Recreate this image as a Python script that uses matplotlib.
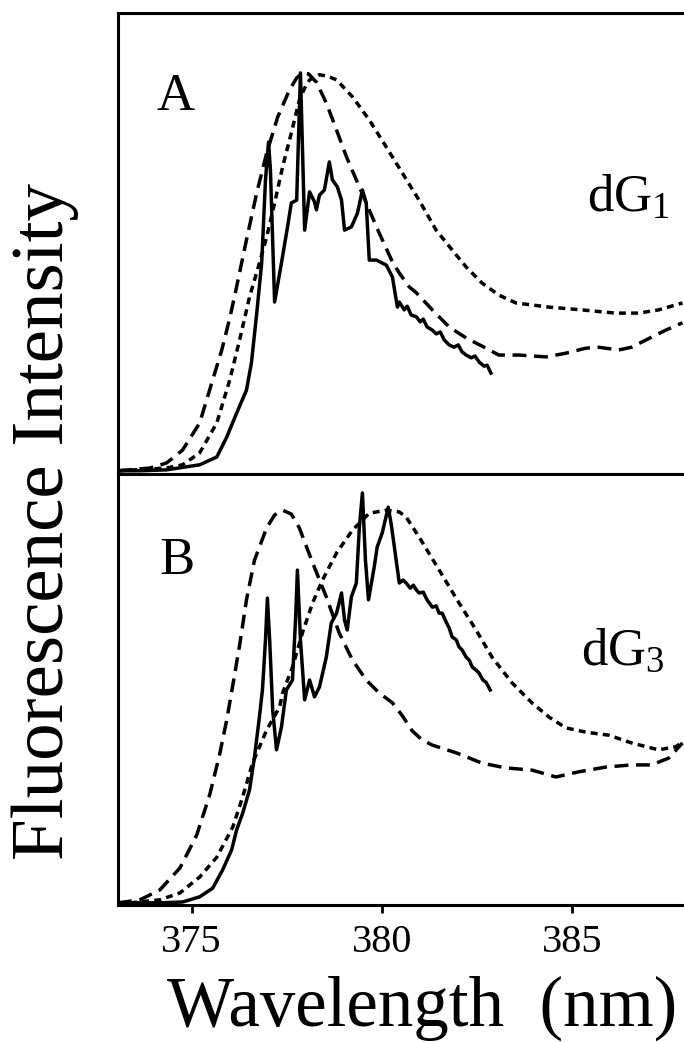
import matplotlib
matplotlib.use("Agg")
import matplotlib.pyplot as plt

plt.rcParams['font.family'] = ['Liberation Serif', 'DejaVu Serif']
plt.rcParams['mathtext.fontset'] = 'custom'
plt.rcParams['mathtext.rm'] = 'Liberation Serif'
plt.rcParams['mathtext.it'] = 'Liberation Serif:italic'

# ---- panel A (dG1) ----
a_solid_x = [373.06, 373.64, 374.34, 375.21, 375.66, 375.92, 376.18, 376.44, 376.57, 376.71,
             376.84, 376.94, 377.02, 377.07, 377.18, 377.36, 377.52, 377.62, 377.76, 377.86,
             377.97, 378.10, 378.23, 378.28, 378.36, 378.49, 378.62, 378.70, 378.83, 378.94,
             379.02, 379.20, 379.36, 379.49, 379.59, 379.67, 379.86, 380.12, 380.28, 380.41,
             380.46, 380.59, 380.67, 380.77, 380.91, 381.01, 381.09, 381.19, 381.33, 381.43,
             381.54, 381.64, 381.77, 381.90, 382.01, 382.11, 382.22, 382.35, 382.45, 382.56,
             382.69, 382.77, 382.87]
a_solid_y = [0.7, 0.7, 0.9, 2.0, 3.7, 8.0, 13.2, 18.2, 24.1, 34.9,
             45.8, 63.8, 72.0, 65.9, 37.3, 45.8, 53.6, 58.8, 59.4, 87.0,
             52.9, 61.2, 59.0, 57.3, 60.5, 61.6, 67.7, 63.8, 62.3, 59.4,
             52.9, 53.6, 56.6, 61.6, 58.8, 46.4, 46.4, 45.3, 42.7, 36.2,
             37.3, 35.6, 36.4, 34.5, 34.1, 33.0, 33.6, 31.9, 31.2, 30.4,
             30.8, 29.1, 28.0, 27.5, 28.0, 26.5, 25.8, 25.2, 25.6, 24.3,
             23.4, 23.6, 21.9]

a_dash_x = [373.06, 373.90, 374.34, 374.76, 375.21, 375.55, 375.79, 376.00, 376.18, 376.44,
            376.71, 376.97, 377.26, 377.57, 377.76, 377.91, 378.07, 378.28, 378.54, 378.81,
            379.07, 379.33, 379.59, 379.93, 380.28, 380.46, 380.72, 380.91, 381.33, 381.77,
            382.22, 382.74, 383.08, 383.61, 384.32, 384.84, 385.37, 385.71, 386.23, 386.57,
            387.10, 387.47, 387.91]
a_dash_y = [0.7, 1.3, 2.4, 5.2, 11.1, 20.4, 26.9, 33.8, 40.6, 50.8,
            61.0, 69.6, 77.4, 83.3, 85.9, 87.0, 86.8, 85.0, 80.5, 74.6,
            68.8, 63.8, 58.8, 52.3, 46.0, 43.6, 40.6, 39.3, 35.6, 31.9,
            29.5, 27.3, 25.8, 25.8, 25.4, 26.2, 27.3, 27.5, 26.9, 27.5,
            29.7, 31.2, 32.8]

a_dot_x = [373.06, 374.34, 374.76, 375.21, 375.66, 376.00, 376.26, 376.52, 376.73, 376.97,
           377.18, 377.39, 377.62, 377.83, 377.97, 378.10, 378.36, 378.57, 378.81, 379.23,
           379.67, 380.12, 380.54, 380.98, 381.43, 381.85, 382.22, 382.64, 383.08, 383.53,
           384.40, 385.26, 386.15, 386.76, 387.28, 387.91]
a_dot_y = [0.7, 1.3, 2.0, 4.6, 11.1, 20.4, 29.1, 38.4, 44.3, 51.4,
           58.8, 66.6, 74.0, 81.1, 83.7, 85.5, 86.6, 86.3, 85.5, 81.8,
           76.8, 70.9, 65.3, 59.4, 52.9, 48.6, 44.9, 41.4, 38.8, 37.1,
           36.2, 35.6, 34.9, 34.9, 35.6, 37.1]

# ---- panel B (dG3) ----
b_solid_x = [373.06, 374.16, 374.76, 375.21, 375.55, 375.81, 376.05, 376.18, 376.34, 376.52,
             376.65, 376.78, 376.86, 376.94, 376.99, 377.05, 377.13, 377.23, 377.36, 377.49,
             377.65, 377.73, 377.78, 377.86, 377.97, 378.10, 378.23, 378.36, 378.54, 378.67,
             378.81, 378.94, 379.02, 379.09, 379.20, 379.33, 379.41, 379.49, 379.57, 379.65,
             379.80, 379.88, 380.01, 380.17, 380.25, 380.33, 380.46, 380.56, 380.64, 380.75,
             380.83, 380.91, 380.98, 381.09, 381.19, 381.33, 381.43, 381.51, 381.59, 381.69,
             381.77, 381.85, 381.96, 382.03, 382.11, 382.22, 382.30, 382.38, 382.48, 382.56,
             382.66, 382.74, 382.85]
b_solid_y = [0.5, 0.5, 0.7, 1.9, 3.9, 8.1, 12.8, 17.4, 21.3, 26.7,
             34.3, 43.6, 49.9, 61.5, 71.2, 61.5, 45.2, 36.0, 41.3, 49.9,
             52.2, 66.1, 77.7, 61.5, 47.6, 52.2, 48.3, 50.6, 57.5, 65.4,
             67.7, 72.4, 66.1, 63.8, 71.5, 74.7, 87.7, 95.6, 80.0, 70.8,
             78.4, 83.1, 86.3, 92.3, 88.2, 83.1, 74.7, 75.4, 74.7, 73.5,
             74.2, 73.1, 72.4, 72.6, 70.8, 69.1, 69.4, 67.7, 67.7, 65.7,
             64.3, 62.2, 61.5, 59.9, 59.2, 57.5, 56.8, 55.2, 54.5, 53.8,
             52.2, 51.7, 49.9]

b_dash_x = [373.06, 373.64, 374.16, 374.69, 375.13, 375.47, 375.73, 375.92, 376.08, 376.26,
            376.44, 376.65, 376.97, 377.18, 377.39, 377.62, 377.83, 378.18, 378.54, 378.88,
            379.23, 379.59, 379.93, 380.28, 380.54, 380.80, 381.06, 381.33, 381.96, 382.64,
            383.27, 383.95, 384.58, 385.18, 385.89, 386.57, 387.10, 387.55, 387.91]
b_dash_y = [0.5, 1.2, 3.5, 8.6, 16.2, 25.5, 34.8, 42.9, 51.0, 60.3,
            70.8, 80.0, 87.5, 90.5, 91.6, 90.7, 87.5, 79.4, 71.5, 63.1,
            56.8, 52.2, 49.2, 46.9, 43.9, 40.4, 38.3, 37.1, 35.3, 32.9,
            31.8, 31.3, 29.7, 30.9, 32.0, 32.5, 32.5, 34.1, 37.6]

b_dot_x = [373.06, 374.16, 374.69, 375.21, 375.66, 376.08, 376.34, 376.60, 376.97, 377.31,
           377.39, 377.65, 377.91, 378.18, 378.44, 378.81, 379.23, 379.67, 380.12, 380.46,
           380.64, 380.98, 381.51, 382.03, 382.48, 382.90, 383.43, 383.95, 384.40, 384.84,
           385.37, 385.97, 386.57, 387.28, 387.73, 387.91]
b_dot_y = [0.2, 1.2, 2.8, 6.5, 11.1, 18.1, 25.1, 32.9, 40.6, 45.9,
           49.2, 55.2, 63.1, 70.1, 75.4, 81.7, 87.0, 90.9, 91.6, 91.2,
           90.0, 85.4, 77.7, 70.1, 63.8, 57.5, 51.5, 46.9, 43.6, 41.1,
           40.1, 39.4, 37.6, 36.0, 36.7, 37.8]

x_ticks = [375, 380, 385]
panel_letters = ['A', 'B']
panel_names = [r'$\mathrm{dG}_1$', r'$\mathrm{dG}_3$']

LW = 2.5
LONG = (4.0, 2.2)
SHORT = (2.0, 1.5)

fig = plt.figure(figsize=(6.84, 10.42), dpi=100)
W, H = 684.0, 1042.0
ax_a = fig.add_axes([118 / W, (H - 474) / H, 1 - 118 / W, 461 / H])
ax_b = fig.add_axes([118 / W, (H - 905) / H, 1 - 118 / W, 431 / H])

series = [
    (ax_a, a_solid_x, a_solid_y, a_dash_x, a_dash_y, a_dot_x, a_dot_y),
    (ax_b, b_solid_x, b_solid_y, b_dash_x, b_dash_y, b_dot_x, b_dot_y),
]
for ax, sx, sy, dx, dy, ox, oy in series:
    ax.plot(sx, sy, color='black', lw=LW, solid_joinstyle='round')
    ax.plot(dx, dy, color='black', lw=LW, dashes=LONG)
    ax.plot(ox, oy, color='black', lw=LW, dashes=SHORT)
    ax.set_xlim(373.06, 387.95)
    ax.set_ylim(0, 100)
    ax.spines['right'].set_visible(False)
    for s in ['left', 'top', 'bottom']:
        ax.spines[s].set_linewidth(2.2)
    ax.set_yticks([])

ax_a.set_xticks([])
ax_b.set_xticks(x_ticks)
ax_b.set_xticklabels([str(t) for t in x_ticks])
ax_b.tick_params(axis='x', direction='out', length=6, width=2, labelsize=29, pad=8)

ax_a.text(0.101, 0.818, panel_letters[0], transform=ax_a.transAxes,
          fontsize=38, ha='center', va='center')
ax_b.text(0.104, 0.798, panel_letters[1], transform=ax_b.transAxes,
          fontsize=38, ha='center', va='center')
ax_a.text(0.828, 0.568, panel_names[0], transform=ax_a.transAxes,
          fontsize=38, ha='left', va='baseline')
ax_b.text(0.818, 0.557, panel_names[1], transform=ax_b.transAxes,
          fontsize=38, ha='left', va='baseline')

fig.text(422 / W, (H - 1026) / H, 'Wavelength  (nm)', fontsize=51,
         ha='center', va='baseline')
fig.text(45 / W, (H - 522) / H, 'Fluorescence Intensity', fontsize=54,
         rotation=90, ha='center', va='center')

fig.savefig('out.png', dpi=100)
